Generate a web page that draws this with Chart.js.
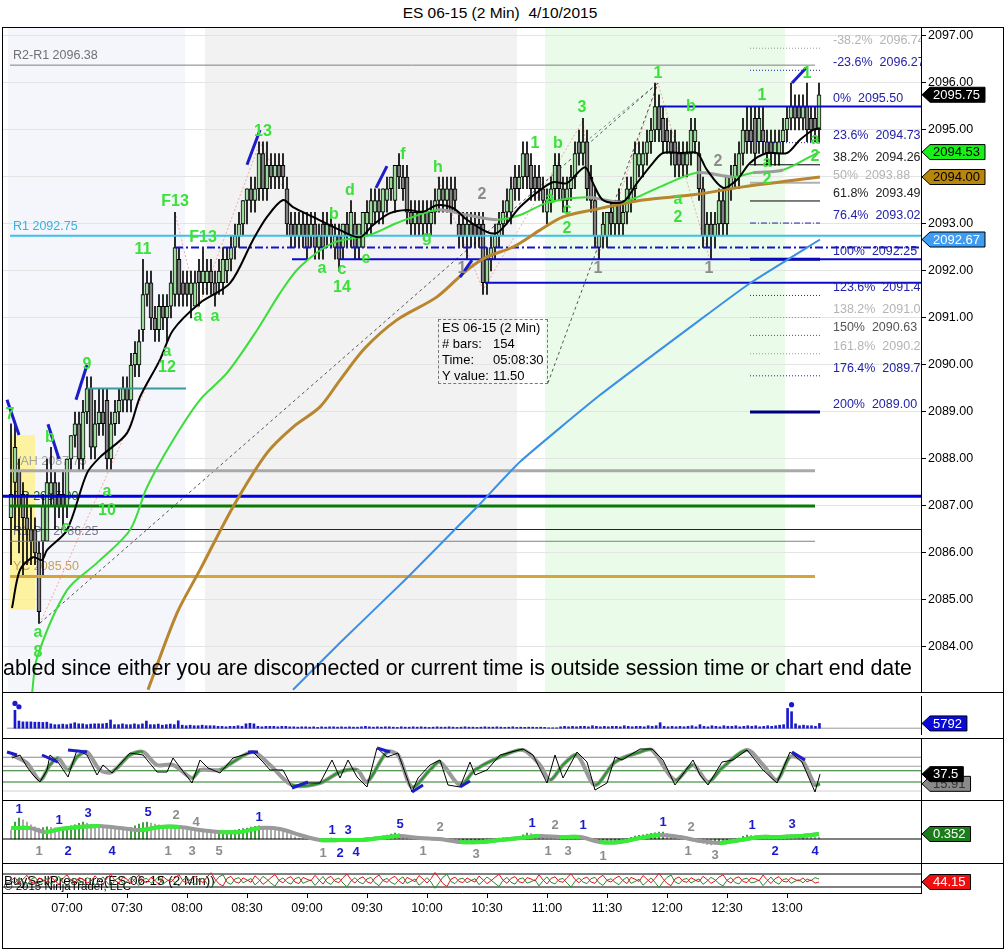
<!DOCTYPE html>
<html>
<head>
<meta charset="utf-8">
<title>ES 06-15 (2 Min)</title>
<script src="https://cdn.jsdelivr.net/npm/chart.js@4.4.1/dist/chart.umd.min.js"></script>
<style>
  html, body { margin: 0; padding: 0; background: #fff; }
  body { position: relative; width: 1005px; height: 949px; overflow: hidden; font-family: "Liberation Sans", Arial, sans-serif; }
  canvas { position: absolute; left: 3px; }
  #title { position: absolute; left: 0; top: 4px; width: 1000px; text-align: center; font-size: 15.5px; white-space: pre; }
  #frame { position: absolute; left: 2px; top: 27px; width: 1002px; height: 922px; border: 1px solid #000; box-sizing: border-box; pointer-events: none; z-index: 5; }
  .sep { position: absolute; left: 3px; width: 1000px; height: 1px; background: #000; z-index: 5; }
  #info { position: absolute; left: 438px; top: 319px; width: 110px; height: 65px; border: 1px dashed #777; box-sizing: border-box; font-size: 13px; line-height: 16px; padding: 0 0 0 3px; white-space: nowrap; z-index: 4; }
  #info span { display: inline-block; width: 51px; }
</style>
</head>
<body>
<div id="title">ES 06-15 (2 Min)  4/10/2015</div>
<canvas id="cMain" width="1000" height="664" style="top:28px"></canvas>
<canvas id="cVol" width="1000" height="46" style="top:692px"></canvas>
<canvas id="cOsc" width="1000" height="62" style="top:738px"></canvas>
<canvas id="cHist" width="1000" height="63" style="top:800px"></canvas>
<canvas id="cBsp" width="1000" height="70" style="top:863px"></canvas>
<div id="frame"></div>
<div class="sep" style="top:692px"></div>
<div class="sep" style="top:738px"></div>
<div class="sep" style="top:800px"></div>
<div class="sep" style="top:863px"></div>
<div id="info">ES 06-15 (2 Min)<br><span># bars:</span>154<br><span>Time:</span>05:08:30<br><span>Y value:</span>11.50</div>
<script>
// ES 06-15, 2 minute bars, 10 April 2015 (06:32 .. 13:16), bar index 0..202
const FONT = '"Liberation Sans", Arial, sans-serif';
const X_MIN = -2, X_MAX = 227.5;

// [open, high, low, close]
const bars = [
  [2086.75,2088.75,2085.75,2087.25],[2087.5,2088.75,2086.5,2088.25],[2087.75,2088,2086,2087],[2087.25,2087.5,2085.5,2086.75],
  [2086.75,2087.25,2085.75,2086.5],[2086.5,2087,2085.75,2086.25],[2086.5,2086.75,2085.75,2086],[2086,2086.25,2084.5,2084.75],
  [2086.25,2087.25,2085.5,2087],[2086.25,2088,2086.25,2087.5],[2087.25,2088.25,2087,2087.5],[2087.5,2087.75,2086.5,2087],
  [2087.25,2087.5,2086.75,2087],[2087.25,2087.75,2086.5,2087],[2087,2088,2086.75,2088],[2088,2088.5,2087.75,2088.5],
  [2088.5,2089,2088.25,2088.75],[2088.75,2089,2087.75,2088],[2088,2089.25,2087.75,2089],[2089,2089.75,2088.75,2089.5],
  [2089.5,2089.75,2088,2088.25],[2088.25,2089.25,2088,2088.75],[2088.75,2089.5,2088.5,2089],[2089,2089.5,2088.5,2088.75],
  [2089.25,2089.5,2087.75,2088],[2088,2089,2087.75,2088.75],[2088.75,2089.25,2088.5,2089],[2089,2089.5,2088.75,2089.25],
  [2089.25,2089.75,2089,2089.5],[2089.5,2089.75,2089,2089.25],[2089.25,2090.25,2089,2090],[2090,2090.5,2089.75,2090.25],
  [2090,2090.75,2089.75,2090.5],[2090.75,2092.25,2090.5,2091.5],[2091.5,2092,2091.25,2091.75],[2091.75,2092,2090.75,2091],
  [2091,2091.25,2090.5,2090.75],[2090.75,2091.5,2090.5,2091.25],[2091.25,2091.5,2090.75,2091],[2091,2091.5,2090.5,2091.25],
  [2091.25,2092,2091,2091.75],[2091.5,2093.25,2091.25,2092.5],[2092.25,2092.5,2091.25,2091.5],[2091.75,2092,2091.25,2091.5],
  [2091.75,2092,2091.25,2091.5],[2091.5,2092,2091,2091.75],[2091.25,2092,2091.25,2091.75],[2092,2092.25,2091.25,2091.75],
  [2091.75,2092.5,2091.5,2092],[2091.75,2092.25,2091.5,2092],[2092,2092.25,2091.5,2091.75],[2091.75,2092,2091.25,2091.5],
  [2091.75,2092.25,2091.5,2092],[2091.75,2092.5,2091.5,2092.25],[2092,2092.5,2091.75,2092.25],[2092.25,2092.75,2092,2092.5],
  [2092.5,2093,2092.25,2092.75],[2092.75,2093.25,2092.5,2093],[2093,2093.5,2092.75,2093.5],[2093.5,2093.75,2093,2093.75],
  [2093.75,2094,2093.25,2093.5],[2093.5,2094,2093.25,2093.75],[2093.75,2094.75,2093.5,2094.5],[2094.5,2094.75,2093.5,2093.75],
  [2093.75,2094.75,2093.5,2094.25],[2094.25,2094.5,2093.75,2094],[2094,2094.5,2093.75,2094.25],[2094.25,2094.5,2093.75,2094],
  [2094.25,2094.5,2093.75,2094],[2093.75,2094,2092.75,2093],[2093,2093.25,2092.5,2092.75],[2093,2093.25,2092.5,2092.75],
  [2092.75,2093.25,2092.5,2093],[2093,2093.25,2092.5,2092.75],[2093,2093.25,2092.25,2092.5],[2092.75,2093.25,2092.5,2093],
  [2093,2093.25,2092.25,2092.5],[2092.5,2093,2092.25,2092.75],[2093,2093.25,2092.25,2092.5],[2092.75,2093.25,2092.5,2093],
  [2093,2093.25,2092.5,2092.75],[2092.5,2093,2092.25,2092.75],[2092.75,2093,2092,2092.25],[2092.5,2093,2092.25,2093],
  [2093,2093.25,2092.5,2092.75],[2092.75,2093.5,2092.5,2093.25],[2093,2093.25,2092.25,2092.5],[2092.5,2093,2092.25,2093],
  [2092.5,2093.25,2092.5,2093.25],[2093,2093.5,2092.75,2093.25],[2093,2093.75,2092.75,2093.5],[2093.25,2093.75,2093,2093.5],
  [2093.5,2093.75,2093,2093.25],[2093.25,2093.75,2093,2093.75],[2093.5,2094,2093.25,2093.75],[2093.75,2094,2093.5,2094],
  [2093.5,2094.25,2093.25,2094.25],[2094.25,2094.5,2093.75,2094],[2094,2094.25,2093.5,2093.75],[2094,2094.25,2093,2093.25],
  [2093.25,2093.5,2092.75,2093],[2093,2093.5,2092.75,2093.25],[2093.25,2093.5,2092.75,2093],[2093,2093.5,2092.75,2093.25],
  [2093.25,2093.5,2092.75,2093],[2093,2093.5,2092.75,2093.25],[2093.25,2093.75,2093,2093.5],[2093.5,2094,2093.25,2093.75],
  [2093.75,2094,2093.25,2093.5],[2093.5,2094,2093.25,2093.75],[2093.75,2094,2093,2093.25],[2093.75,2094,2093.25,2093.5],
  [2093,2093.25,2092.5,2092.75],[2093,2093.25,2092.5,2092.75],[2092.75,2093.25,2092.25,2093],[2093,2093.25,2092.5,2092.75],
  [2093,2093.25,2092.5,2092.75],[2093,2093.25,2092.5,2092.75],[2093,2093.25,2091.5,2091.75],[2091.75,2092.5,2091.5,2092.25],
  [2092.25,2092.75,2092,2092.5],[2092.5,2093,2092.25,2092.75],[2092.75,2093.25,2092.5,2093],[2093,2093.5,2092.75,2093.25],
  [2093.25,2093.75,2093,2093.5],[2093.25,2094,2093,2093.75],[2094,2094.25,2093.5,2093.75],[2093.75,2094.25,2093.5,2094],
  [2094,2094.75,2093.75,2094.5],[2094.5,2094.75,2093.75,2094],[2094.25,2094.5,2093.5,2093.75],[2094,2094.25,2093.5,2093.75],
  [2094,2094.25,2093.5,2093.75],[2093.75,2094,2093.25,2093.5],[2093.25,2093.75,2093,2093.5],[2093.5,2094,2093.25,2093.75],
  [2093.75,2094.5,2093.5,2094.25],[2094.25,2094.5,2093.5,2093.75],[2093.75,2094,2093.25,2093.5],[2093.5,2094,2093.25,2093.75],
  [2093.75,2094.25,2093.5,2094],[2094,2094.75,2093.75,2094.5],[2094.75,2095,2094.25,2094.5],[2094.5,2095.25,2094.25,2094.75],
  [2094.75,2095,2093.5,2093.75],[2094,2094.25,2093.25,2093.5],[2093.5,2093.75,2092.5,2092.75],[2092.5,2092.75,2092.25,2092.75],
  [2092.75,2093.25,2092.5,2093],[2092.75,2093.25,2092.5,2093.25],[2093.25,2093.5,2092.75,2093],[2093,2093.5,2092.75,2093.5],
  [2093.5,2093.75,2092.75,2093],[2093,2093.5,2092.75,2093.25],[2093.25,2094,2093,2093.75],[2093.5,2094,2093.25,2093.75],
  [2093.75,2094.75,2093.5,2094.5],[2094.25,2094.75,2094,2094.5],[2094.25,2094.75,2094,2094.5],[2094.5,2095,2094.25,2094.75],
  [2094.75,2095.25,2094.5,2095],[2095,2096,2094.75,2095.5],[2095.5,2095.75,2094.75,2095],[2095.25,2095.5,2094.5,2094.75],
  [2095,2095.25,2094.5,2094.75],[2094.75,2095,2094.25,2094.5],[2094.75,2095,2094,2094.25],[2094.5,2094.75,2094,2094.25],
  [2094.5,2094.75,2094,2094.25],[2094.25,2094.75,2094,2094.5],[2094.5,2095.25,2094.25,2095],[2094.75,2095.25,2094.5,2095],
  [2094.5,2094.75,2093.5,2093.75],[2093.75,2094,2092.5,2092.75],[2092.75,2093.25,2092.5,2093],[2093,2093.25,2092.25,2092.75],
  [2092.75,2093.25,2092.5,2093],[2093,2093.75,2092.75,2093.5],[2093.5,2093.75,2092.75,2093],[2093,2094,2092.75,2094],
  [2093.75,2094.25,2093.5,2094],[2094,2094.5,2093.75,2094.25],[2094,2094.75,2093.75,2094.5],[2094.5,2095.25,2094.25,2095],
  [2095,2095.5,2094.5,2094.75],[2095,2095.5,2094.5,2094.75],[2095.25,2095.5,2094.25,2094.5],[2094.75,2095.5,2094.5,2095.25],
  [2095,2095.5,2094.5,2094.75],[2094.75,2095,2094.25,2094.5],[2094.75,2095,2094.25,2094.5],[2094.5,2095,2094.25,2094.75],
  [2094.5,2095,2094.25,2094.75],[2094.75,2095.25,2094.5,2095],[2095,2095.5,2094.75,2095.25],[2095.25,2096,2095,2095.5],
  [2095.5,2095.75,2095,2095.25],[2095.5,2095.75,2095,2095.25],[2095.25,2095.75,2095,2095.5],[2095.5,2096,2094.75,2095],
  [2095.25,2095.5,2094.75,2095],[2095.25,2095.5,2094.75,2095],[2095,2096,2094.75,2095.75]
];

const volume = [
  21700,8700,7700,7700,7700,7300,7300,7000,7300,5300, 4300,4300,5000,4300,5300,6700,5300,5300,4300,5000,
  5300,5300,5300,6000,10000,4300,4300,5300,4300,4300, 5300,4300,5300,8700,4300,4300,5000,3700,4300,5000,
  4300,9000,3700,3000,3700,3000,3000,3700,3000,3000, 3000,2300,2300,1700,2300,2300,3000,2300,5300,6000,
  5300,2300,1700,2300,2300,2300,1700,2300,2300,1700, 1700,1300,1700,1700,1300,1700,1000,1700,1300,1700,
  1700,1300,1700,1300,1700,1300,1300,1700,2300,1700, 1300,1700,1300,1700,1700,1300,1000,1700,1300,1300,
  1700,1300,1700,1300,1000,1300,1700,1300,1300,1700, 1300,1000,1300,1700,1300,1300,1000,1300,1700,1300,
  1300,1700,1300,1000,1300,1700,1000,1300,1000,1300, 1300,1000,1300,1000,500,500,500,1700,2300,1700,
  2300,1700,2300,2300,1700,3000,2300,1700,2300,1700, 2300,2300,1700,3000,2300,1700,2300,2300,1700,3000,
  2300,3000,6700,2300,1700,2300,1700,2300,1700,2300, 3000,1700,4300,2300,1700,3000,2300,1700,3000,2300,
  2300,3000,1700,2300,3000,2300,3000,1700,2300,3000, 2300,3000,3700,4300,24000,20000,5300,3000,3700,3000,
  3000,2300,5792
];
const volumeDots = [[0, 30000], [1, 26000], [195, 28500]];

// moving averages, [bar, price] vertices
const maFast = [[0.25,2084.83],[2.25,2085.64],[5.5,2085.91],[7.75,2085.85],[9,2086.06],[14,2086.49],[19,2087.70],
  [22.25,2088.04],[29,2088.55],[32.25,2089.32],[37.25,2090.11],[40.5,2090.74],[47.25,2091.32],[54.75,2091.74],
  [60.5,2092.66],[64,2093.15],[68,2093.51],[70.5,2093.36],[75.5,2093.15],[82.25,2092.87],[87.25,2092.72],
  [90.5,2092.98],[94.75,2093.23],[99,2093.30],[103,2093.26],[106.5,2093.40],[110.5,2093.34],[114,2093.09],
  [119,2092.83],[121.5,2092.81],[124,2093.02],[127.25,2093.36],[132.25,2093.72],[135.5,2093.89],[139,2093.87],
  [143.5,2094.21],[145.5,2093.87],[148,2093.51],[153,2093.47],[156.5,2093.87],[160.5,2094.30],[163,2094.51],
  [168,2094.51],[171.5,2094.51],[174,2094.15],[178,2093.77],[181.5,2093.94],[184.75,2094.30],[189,2094.51],
  [194,2094.51],[197.25,2094.79],[200.5,2095.0],[202.25,2095.04]];
const maMid = [[5.25,2083.0],[6.5,2083.77],[14,2085.21],[21.5,2085.79],[29.75,2086.49],[34,2087.40],[40.5,2088.40],
  [47.25,2089.26],[54,2089.83],[61.5,2090.74],[67.25,2091.53],[72.25,2092.09],[80.5,2092.60],[89.75,2092.77],
  [96.5,2093.02],[106.5,2093.30],[114,2093.19],[121.5,2093.09],[127.25,2093.19],[134,2093.45],[144,2093.57],
  [153,2093.47],[162.25,2093.79],[171.5,2094.09],[180.5,2094.0],[185.5,2094.09],[193,2094.15],[201.5,2094.51],
  [202.25,2094.53]];
const midFlatSegs = [15, 16, 20, 23, 25];
const maSlow = [[34.25,2083.09],[41.5,2084.72],[47.25,2085.64],[55.5,2086.98],[64,2088.13],[70.5,2088.68],
  [77.25,2089.11],[82.25,2089.68],[88.5,2090.36],[96.5,2090.96],[106.5,2091.45],[114,2092.02],[119,2092.30],
  [125.5,2092.51],[132.25,2092.87],[138,2093.15],[145.5,2093.30],[158,2093.51],[170.5,2093.62],[183,2093.79],
  [202.25,2094.0]];
const maLong = [[70.5,2083.09],[82.25,2084.09],[99,2085.47],[116.75,2087.0],[127.25,2087.94],[147.25,2089.36],
  [172.25,2090.96],[184.75,2091.74],[202.25,2092.67]];

// horizontal levels: [name, price, fromBar, toBar]
const levels = [
  ['R2-R1', 2096.38, -0.25, 201], ['R1', 2092.75, -0.25, X_MAX], ['VAH', 2087.75, -0.25, 201],
  ['POC', 2087.21, X_MIN, X_MAX], ['PP', 2087.0, -0.25, 201], ['S', 2086.5, X_MIN, X_MAX],
  ['R1-PP', 2086.25, -0.25, 201], ['YC', 2085.5, -0.25, 201], ['hi', 2095.5, 162.25, X_MAX],
  ['mid', 2092.5, 41, X_MAX], ['low1', 2092.25, 82.25, X_MAX], ['tick', 2092.25, 70.25, 74],
  ['low2', 2091.75, 118.5, X_MAX], ['nine', 2089.5, 19, 43.75]
];
const levelText = [['R2-R1', 'R2-R1 2096.38'], ['R1', 'R1 2092.75'], ['VAH', 'VAH 2087.75'],
  ['PP', 'PP 2087.00'], ['R1-PP', 'R1-PP 2086.25'], ['YC', 'YC 2085.50']];

// fibonacci extension drawn 0% 2095.50 .. 100% 2092.25
const fibPct = ['-38.2%','-23.6%','0%','23.6%','38.2%','50%','61.8%','76.4%','100%','123.6%','138.2%','150%','161.8%','176.4%','200%'];
const fibVal = [2096.74,2096.27,2095.50,2094.73,2094.26,2093.88,2093.49,2093.02,2092.25,2091.48,2091.01,2090.63,2090.24,2089.77,2089.00];
const fibSpan = [184.75, 202.25];

// background session shading and the opening-range box
const sessionBands = [[-0.75, 43.5], [48.5, 126.5], [133.5, 193.5]];
const openRange = [-0.25, 6, 2084.79, 2088.51];

// drawing-tool lines
const diagLines = [[[7.25,2084.51],[161.75,2096.0]], [[134.25,2089.62],[161.75,2096.0]], [[143.5,2094.74],[161.75,2096.0]]];
const swingLines = [[[7.25,2084.5],[39,2090.5]], [[41,2093.25],[46.75,2091.2]], [[46.75,2091.2],[62.25,2094.74],[68,2093.77]],
  [[106.5,2094.0],[118,2091.6],[143,2095.2],[146.75,2092.28],[161.75,2096.0],[174.5,2092.3]]];
const trendStrokes = [[[-1,2089.26],[2,2088.51]], [[9.25,2088.74],[12,2088.0]], [[16.25,2089.26],[19,2090.0]],
  [[59,2094.26],[62.25,2095.0]], [[91.25,2093.77],[94,2094.23]], [[112.25,2091.87],[115.25,2092.23]],
  [[195.25,2096.0],[198.75,2096.32]]];

// wave count labels: [text, bar, price, kind] kind g = green count, k = grey count
const waveLabels = [
  ['7',-0.25,2088.94,'g'],['b',9.75,2088.45,'g'],['c',13.75,2086.55,'g'],['a',6.75,2084.30,'g'],['8',6.75,2083.89,'g'],
  ['9',19,2090.0,'g'],['a',24,2087.30,'g'],['10',24,2086.91,'g'],['11',33,2092.45,'g'],['a',39,2090.28,'g'],['12',39,2089.94,'g'],
  ['F13',41,2093.47,'g'],['F13',48,2092.72,'g'],['a',46.75,2091.02,'g'],['a',51,2091.02,'g'],['13',63,2094.96,'g'],
  ['a',77.75,2092.06,'g'],['b',80.75,2093.19,'g'],['c',82.75,2092.02,'g'],['14',82.75,2091.64,'g'],['d',84.75,2093.72,'g'],
  ['e',88.75,2092.26,'g'],['f',98,2094.47,'g'],['g',104,2092.72,'g'],['h',106.75,2094.21,'g'],
  ['1',131,2094.72,'g'],['b',136.75,2094.72,'g'],['a',134.75,2093.53,'g'],['c',139,2093.30,'g'],['2',139,2092.91,'g'],
  ['3',142.75,2095.47,'g'],['1',161.75,2096.21,'g'],['b',170,2095.49,'g'],['a',166.75,2093.51,'g'],['2',166.75,2093.13,'g'],
  ['1',187.75,2095.74,'g'],['a',189,2094.30,'g'],['2',189,2093.94,'g'],['a',201,2094.79,'g'],['2',201,2094.43,'g'],['1',199,2096.21,'g'],
  ['2',117.75,2093.62,'k'],['1',146.75,2092.06,'k'],['1',174.5,2092.06,'k'],['2',176.75,2094.32,'k'],['1',112.75,2092.06,'k']
];
const priceTicks = [2084,2085,2086,2087,2088,2089,2090,2091,2092,2093,2094,2095,2096,2097];

// stochastic panel
const oscFast = [[0.25,73.3],[2.25,80],[4,53.3],[5.5,35.6],[7.25,20],[9,46.7],[9.75,80],[11.75,64.4],[14.25,31.1],
  [16.5,91.1],[19,80],[21.5,35.6],[23,57.8],[25.25,40],[29.75,84.4],[33,80],[36.5,42.2],[39,42.2],[40.5,73.3],
  [42.75,46.7],[45.25,17.8],[47.25,68.9],[49.25,51.1],[52.25,40],[55.5,73.3],[60.5,86.7],[63,64.4],[64.75,46.7],
  [68,46.7],[70.25,8.9],[73,17.8],[77.25,17.8],[80.25,68.9],[82.25,28.9],[84.25,68.9],[86.5,31.1],[89,8.9],
  [91.5,95.6],[94,75.6],[96.75,84.4],[100.25,-2.2],[101.75,28.9],[104.75,57.8],[107.25,68.9],[109.25,13.3],
  [112.25,8.9],[114.75,64.4],[116,35.6],[119,46.7],[122.25,80],[128,93.3],[130.5,80],[134,17.8],[136,80],
  [138,28.9],[141.5,86.7],[144,64.4],[146,2.2],[149,17.8],[151,75.6],[152.75,68.9],[157.25,93.3],[160.25,93.3],
  [163,68.9],[166,13.3],[170.5,68.9],[172.25,35.6],[174.25,13.3],[177.75,64.4],[180.5,68.9],[184,91.1],[188,46.7],
  [191.5,17.8],[194.75,86.7],[197.75,64.4],[201,-2.2],[202.25,37.5]];
const oscSlow = [[0.25,80],[4,62.2],[7.25,24.4],[9.75,57.8],[11.75,73.3],[14.25,46.7],[16.5,75.6],[19,86.7],
  [22.25,46.7],[25.25,42.2],[29.75,80],[33,86.7],[36.5,57.8],[40.5,57.8],[45.25,28.9],[47.25,46.7],[52.25,46.7],
  [55.5,64.4],[60.5,86.7],[64.75,57.8],[70.25,13.3],[77.25,17.8],[82.25,42.2],[86.5,46.7],[89,20],[94,86.7],
  [96.75,80],[100.25,8.9],[104.75,46.7],[107.25,64.4],[112.25,13.3],[116,46.7],[122.25,75.6],[128,91.1],
  [132.25,57.8],[134.75,24.4],[138,57.8],[141.5,80],[146,13.3],[151,64.4],[157.25,86.7],[160.25,91.1],[166,24.4],
  [170.5,57.8],[174.25,20],[177.75,51.1],[184,91.1],[188,57.8],[191.5,24.4],[194.75,75.6],[197.75,68.9],[201,13.3],
  [202.25,15.91]];
const oscLevels = [75, 55, 45, 20, 0];
const oscStrokes = [[[-1,86.7],[1.5,80]], [[7.75,80],[11.75,64.4]], [[14.25,91.1],[19,86.7]], [[59.25,86.7],[61.75,86.7]],
  [[70.25,6.7],[74.25,20]], [[91.5,95.6],[94.75,86.7]], [[100.25,-2.2],[103,13.3]], [[112.25,8.9],[114.75,22.2]],
  [[195.25,86.7],[198.5,68.9]]];

// momentum histogram panel
const histBars = [
  0.63,1.2,1.48,1.35,1.2,1.0,0.85,0.77,0.8,0.85, 0.82,0.78,0.77,0.82,0.88,0.92,1.0,1.1,1.2,1.12,
  1.0,0.92,0.88,0.82,0.77,0.75,0.73,0.72,0.71,0.7, 0.8,0.92,1.05,1.15,1.2,1.12,1.05,0.99,0.96,0.94,
  0.93,0.92,0.88,0.82,0.78,0.72,0.65,0.58,0.52,0.49, 0.48,0.47,0.48,0.49,0.49,0.55,0.62,0.68,0.73,0.77,
  0.84,0.9,0.92,0.9,0.86,0.8,0.72,0.66,0.6,0.45, 0.3,0.15,0.07,0.02,-0.03,-0.05,-0.06,-0.07,-0.03,0.05,
  0.06,0.03,-0.02,-0.05,-0.07,-0.05,-0.02,0.02,0.05,0.07, 0.1,0.14,0.18,0.21,0.28,0.35,0.42,0.38,0.3,0.22,
  0.2,0.18,0.16,0.15,0.14,0.12,0.09,0.07,0.01,-0.08, -0.15,-0.22,-0.28,-0.27,-0.26,-0.24,-0.22,-0.21,-0.16,-0.1,
  -0.04,0.02,0.07,0.09,0.1,0.12,0.13,0.14,0.3,0.42, 0.38,0.32,0.28,0.22,0.18,0.15,0.14,0.15,0.17,0.19,
  0.2,0.21,0.15,0.07,-0.05,-0.15,-0.24,-0.28,-0.28,-0.28, -0.28,-0.2,-0.12,-0.07,0.03,0.12,0.21,0.26,0.3,0.35,
  0.4,0.44,0.48,0.49,0.4,0.3,0.21,0.16,0.12,0.08, 0.05,-0.05,-0.21,-0.3,-0.38,-0.42,-0.35,-0.28,-0.21,-0.12,
  -0.05,0.02,0.07,0.18,0.28,0.25,0.22,0.21,0.19,0.17, 0.15,0.14,0.18,0.22,0.28,0.3,0.29,0.28,0.28,0.25,
  0.2,0.16,0.14
];
const histLine = [[0,0.77],[4.75,0.77],[8.5,0.49],[12.25,0.70],[17.25,0.85],[22.25,0.92],[27.25,0.77],[32.25,0.63],
  [37.25,0.85],[42.25,0.85],[47.25,0.63],[52.25,0.49],[57.25,0.49],[62.25,0.77],[67.25,0.70],[72.25,0.28],
  [77.25,-0.07],[82.25,-0.07],[87.25,-0.07],[92.25,0.07],[97.25,0.21],[102.25,0.07],[107.25,0.0],[112.25,-0.21],
  [117.25,-0.21],[122.25,-0.07],[127.25,0.07],[132.25,0.21],[137.25,0.14],[142.25,0.14],[147.25,-0.21],
  [152.25,-0.21],[157.25,0.07],[162.25,0.28],[167.25,0.14],[172.25,-0.14],[177.25,-0.28],[182.25,-0.07],
  [187.25,0.14],[192.25,0.14],[197.25,0.21],[202,0.352]];
const histLabels = [
  ['1',2,2.11,'b'],['1',12,1.34,'b'],['3',19.25,1.83,'b'],['2',14.25,-0.85,'b'],['4',25.25,-0.85,'b'],['5',34.25,1.90,'b'],
  ['1',62,1.55,'b'],['1',80.25,0.63,'b'],['3',84.25,0.63,'b'],['2',82.25,-0.99,'b'],['4',86.25,-0.92,'b'],['5',97.25,1.06,'b'],
  ['1',130.25,1.13,'b'],['1',143,0.99,'b'],['1',163,1.20,'b'],['1',185.25,0.99,'b'],['3',195.25,1.06,'b'],['2',191,-0.85,'b'],
  ['4',201,-0.85,'b'],
  ['1',7,-0.85,'k'],['2',41.25,1.69,'k'],['4',46.25,1.20,'k'],['1',39.25,-0.85,'k'],['3',45.25,-0.85,'k'],['5',52,-0.85,'k'],
  ['1',78,-0.99,'k'],['2',107.25,0.85,'k'],['1',103,-0.85,'k'],['3',116.25,-1.06,'k'],['2',136,0.99,'k'],['1',134.25,-0.85,'k'],
  ['3',139.25,-0.85,'k'],['1',148,-1.20,'k'],['2',170,0.85,'k'],['1',169.25,-0.85,'k'],['3',176,-1.13,'k']
];

// buy / sell pressure panel
const sellPressure = [
  50,62,40,55,70,45,38,60,52,44,66,48,35,58,72,50,42,61,55,40,
  47,68,52,36,59,74,49,41,63,55,38,57,70,46,43,62,50,35,65,53,
  44,60,72,48,39,57,66,51,42,63,80,55,37,29,58,66,45,40,60,52,
  43,68,54,35,47,61,73,50,41,58,65,44,38,62,55,49,70,52,36,58,
  66,47,42,61,75,53,40,57,64,45,39,60,71,50,43,58,66,48,37,62,
  54,45,69,56,40,57,81,60,38,27,55,63,46,42,60,51,44,67,53,38,
  49,62,74,51,39,58,65,45,41,61,56,48,72,52,37,58,64,47,43,61,
  76,54,41,57,63,44,39,60,70,50,44,58,67,49,38,62,55,46,69,55,
  41,58,78,57,39,30,56,64,47,43,61,52,45,66,54,39,48,63,72,50,
  40,59,64,46,42,60,57,49,71,53,38,57,65,47,44,62,54,48,60,45,
  52,40,44.15];
const buyPressure = [
  50,39,61,46,31,54,63,41,47,57,35,51,66,43,29,51,58,40,46,61,
  54,33,49,64,42,27,52,60,38,46,63,44,31,55,58,39,51,66,36,48,
  57,41,29,53,62,44,35,50,59,38,21,46,64,72,43,35,56,61,41,49,
  58,33,47,66,54,40,28,51,60,43,36,57,63,39,46,52,31,49,65,43,
  35,54,59,40,26,48,61,44,37,56,62,41,30,51,58,43,35,53,64,39,
  47,56,32,45,61,44,20,41,63,74,46,38,55,59,41,50,57,34,48,63,
  52,39,27,50,62,43,36,56,60,40,45,53,29,49,64,43,37,54,58,40,
  25,47,60,44,38,57,62,41,31,51,57,43,34,52,63,39,46,55,32,46,
  60,43,23,44,62,71,45,37,54,58,40,49,56,35,47,62,53,38,29,51,
  61,42,37,55,59,41,44,52,30,48,63,44,36,54,57,39,47,53,41,56,
  49,61,55.85];
const bspLevels = [75, 25];

const timeTickBars = [14,29,44,59,74,89,104,119,134,149,164,179,194];
const timeLabels = ['07:00','07:30','08:00','08:30','09:00','09:30','10:00','10:30','11:00','11:30','12:00','12:30','13:00'];

// ---------- styles ----------
const UP = '#9dd99d', DOWN = '#808080';
const GREEN_TXT = '#3be03b', GREY_TXT = '#8c8c8c', BLUE_TXT = '#1a1acc';
const bandColors = ['#f4f6fc', '#f2f2f2', '#eafbea'];
const levelStyle = {
  'R2-R1': ['#808080', 1, []], 'R1': ['#3cc0ea', 2, []], 'VAH': ['#a9a9a9', 3, []], 'POC': ['#0000e0', 3, []],
  'PP': ['#087a08', 3, []], 'S': ['#1010c0', 1, []], 'R1-PP': ['#808080', 1, []], 'YC': ['#d4a53a', 3, []],
  'hi': ['#0a0acc', 2, []], 'mid': ['#1414c8', 2, [8, 3, 2, 3]], 'low1': ['#0a0acc', 2, []], 'tick': ['#0a0acc', 2, []],
  'low2': ['#0a0acc', 2, []], 'nine': ['#3a9a9a', 2, []]
};
const levelTextColor = { 'R2-R1': '#707070', 'R1': '#3ab0dc', 'VAH': '#a3a3a3', 'PP': '#0a6a0a', 'R1-PP': '#7a7a8c', 'YC': '#c9a05a' };
const fibStyle = [
  ['#b4b4b4','#9a9a9a',1,[1,2]], ['#2222a8','#2222a8',1,[1,2]], ['#2222a8',null,0,[]], ['#2222a8','#2222a8',1,[1,2]],
  ['#222222','#000000',1,[]], ['#b4b4b4','#b0b0b0',2,[]], ['#222222','#000000',1,[]], ['#2222a8','#2222a8',1,[6,2,1,2]],
  ['#2222a8','#000080',3,[]], ['#2222a8','#2222a8',1,[1,2]], ['#b4b4b4','#9a9a9a',1,[1,2]], ['#555555','#555555',1,[1,2]],
  ['#b4b4b4','#9a9a9a',1,[1,2]], ['#2222a8','#2222a8',1,[1,2]], ['#2222a8','#000080',3,[]]
];

// ---------- helpers ----------
const pts = a => a.map(p => ({ x: p[0], y: p[1] }));
const line = (data, color, width, extra) => Object.assign({
  type: 'line', data: pts(data), borderColor: color, borderWidth: width, pointRadius: 0, fill: false, tension: 0
}, extra || {});
const hline = (v, color, width, extra) => line([[X_MIN, v], [X_MAX, v]], color, width, extra);

function xAxis(extra) {
  return Object.assign({ type: 'linear', min: X_MIN, max: X_MAX, offset: false, bounds: 'data', display: false }, extra || {});
}
function yAxis(min, max, extra) {
  return Object.assign({
    type: 'linear', position: 'right', min, max, bounds: 'data',
    afterFit: s => { s.width = 82; s.paddingTop = 0; s.paddingBottom = 0; },
    ticks: { display: false }, grid: { display: false }, border: { display: true, color: '#000' }
  }, extra || {});
}
function baseOptions(scales) {
  return {
    responsive: false, animation: false, events: [], layout: { padding: 0 },
    plugins: { legend: { display: false }, tooltip: { enabled: false } }, scales
  };
}
function flag(ctx, x, y, text, bg, fg) {
  ctx.save();
  ctx.font = '13px ' + FONT;
  const w = ctx.measureText(text).width + 8;
  ctx.beginPath();
  ctx.moveTo(x, y); ctx.lineTo(x + 8, y - 7.5); ctx.lineTo(x + 8 + w, y - 7.5);
  ctx.lineTo(x + 8 + w, y + 7.5); ctx.lineTo(x + 8, y + 7.5); ctx.closePath();
  ctx.fillStyle = bg; ctx.fill();
  ctx.strokeStyle = '#000'; ctx.lineWidth = 1; ctx.stroke();
  ctx.fillStyle = fg; ctx.textAlign = 'left'; ctx.textBaseline = 'middle';
  ctx.fillText(text, x + 11, y + 0.5);
  ctx.restore();
}
function clipArea(ctx, a) {
  ctx.beginPath(); ctx.rect(a.left, a.top, a.right - a.left, a.bottom - a.top); ctx.clip();
}

// ---------- main price panel ----------
const mainSets = [
  { type: 'bar', data: bars.map((b, i) => ({ x: i, y: [b[2], b[1]] })), backgroundColor: '#000',
    barThickness: 1, grouped: false, order: 100 },
  { type: 'bar', data: bars.map((b, i) => ({ x: i, y: [b[0], b[3]] })),
    backgroundColor: bars.map(b => b[3] > b[0] ? UP : DOWN), borderColor: '#000', borderWidth: 1,
    borderSkipped: false, barThickness: 4, grouped: false, order: 99 }
];
diagLines.forEach((d, k) => mainSets.push(line(d, k === 2 ? '#888' : '#555', 1, { borderDash: [3, 3], order: 110 })));
swingLines.forEach(d => mainSets.push(line(d, '#f0a8a8', 1, { borderDash: [2, 2], order: 111 })));
levels.forEach(l => {
  const st = levelStyle[l[0]];
  mainSets.push(line([[l[2], l[1]], [l[3], l[1]]], st[0], st[1], { borderDash: st[2], order: 60 }));
});
fibVal.forEach((v, k) => {
  const st = fibStyle[k];
  if (st[1]) mainSets.push(line([[fibSpan[0], v], [fibSpan[1], v]], st[1], st[2], { borderDash: st[3], order: 61 }));
});
mainSets.push(line(maLong, '#3a8fe6', 2, { tension: 0.15, order: 30 }));
mainSets.push(line(maSlow, '#b8862e', 3, { tension: 0.3, order: 29 }));
mainSets.push(line(maMid, '#3ade3a', 2, { tension: 0.3, order: 28,
  segment: { borderColor: s => midFlatSegs.includes(s.p0DataIndex) ? '#9c9c9c' : '#3ade3a',
             borderWidth: s => midFlatSegs.includes(s.p0DataIndex) ? 3 : 2 } }));
mainSets.push(line(maFast, '#000', 2, { tension: 0.3, order: 27 }));
trendStrokes.forEach(d => mainSets.push(line(d, '#1c1cc8', 3, { order: 10 })));

const mainDecor = {
  id: 'mainDecor',
  beforeDraw(c) {
    const { ctx, chartArea: a, scales: { x } } = c;
    ctx.save();
    sessionBands.forEach((b, k) => {
      const x0 = x.getPixelForValue(b[0]), x1 = x.getPixelForValue(b[1]);
      ctx.fillStyle = bandColors[k];
      ctx.fillRect(x0, a.top, x1 - x0, a.bottom - a.top);
    });
    ctx.restore();
  },
  beforeDatasetsDraw(c) {
    const { ctx, chartArea: a, scales: { x, y } } = c;
    ctx.save();
    const bx0 = x.getPixelForValue(openRange[0]), bx1 = x.getPixelForValue(openRange[1]);
    const by0 = y.getPixelForValue(openRange[3]), by1 = y.getPixelForValue(openRange[2]);
    ctx.fillStyle = 'rgba(255,240,130,0.75)';
    ctx.fillRect(bx0, by0, bx1 - bx0, by1 - by0);
    ctx.font = '12.5px ' + FONT; ctx.textAlign = 'left'; ctx.textBaseline = 'middle';
    levelText.forEach(t => {
      const lv = levels.find(l => l[0] === t[0]);
      ctx.fillStyle = levelTextColor[t[0]];
      ctx.fillText(t[1], a.left + 10, y.getPixelForValue(lv[1]) - 9.5);
    });
    ctx.restore();
  },
  afterDatasetsDraw(c) {
    const { ctx, chartArea: a, scales: { x, y } } = c;
    ctx.save();
    clipArea(ctx, a);
    ctx.font = 'bold 16px ' + FONT; ctx.textAlign = 'center'; ctx.textBaseline = 'middle';
    waveLabels.forEach(w => {
      ctx.fillStyle = w[3] === 'g' ? GREEN_TXT : GREY_TXT;
      ctx.fillText(w[0], x.getPixelForValue(w[1]), y.getPixelForValue(w[2]));
    });
    ctx.font = '12.5px ' + FONT; ctx.textAlign = 'left';
    fibVal.forEach((v, k) => {
      ctx.fillStyle = fibStyle[k][0];
      ctx.fillText(fibPct[k] + '  ' + v.toFixed(2), a.right - 88, y.getPixelForValue(v) - 7.5);
    });
    const msg = 'abled since either you are disconnected or current time is outside session time or chart end date';
    ctx.font = '19px ' + FONT;
    const fs = 19 * (a.right - 9 - a.left) / ctx.measureText(msg).width;
    ctx.font = fs.toFixed(2) + 'px ' + FONT;
    ctx.fillStyle = '#000'; ctx.textAlign = 'right';
    ctx.fillText(msg, a.right - 9, a.bottom - 23);
    ctx.restore();
  },
  afterDraw(c) {
    const { ctx, chartArea: a, scales: { y } } = c;
    const fx = a.right + 1;
    flag(ctx, fx, y.getPixelForValue(maLong[maLong.length - 1][1]), maLong[maLong.length - 1][1].toFixed(2), '#3d9df5', '#fff');
    flag(ctx, fx, y.getPixelForValue(maSlow[maSlow.length - 1][1]), maSlow[maSlow.length - 1][1].toFixed(2), '#b8860b', '#000');
    flag(ctx, fx, y.getPixelForValue(maMid[maMid.length - 1][1]), maMid[maMid.length - 1][1].toFixed(2), '#19f019', '#000');
    const last = bars[bars.length - 1][3];
    flag(ctx, fx, y.getPixelForValue(last), last.toFixed(2), '#000', '#fff');
  }
};

new Chart(document.getElementById('cMain'), {
  type: 'bar',
  data: { datasets: mainSets },
  options: baseOptions({
    x: xAxis(),
    y: yAxis(2097 - 664 / 47 + 8 / 47, 2097 + 8 / 47, {
      afterBuildTicks: s => { s.ticks = priceTicks.map(v => ({ value: v })); },
      ticks: { display: true, callback: v => Number(v).toFixed(2), color: '#000', padding: 2, font: { family: FONT, size: 12.5 } },
      grid: { display: true, color: '#e4e4e4', tickColor: '#000', tickLength: 5 }
    })
  }),
  plugins: [mainDecor]
});

// ---------- volume ----------
new Chart(document.getElementById('cVol'), {
  type: 'bar',
  data: { datasets: [
    hline(0, '#9a9a9a', 1, { order: 5 }),
    { type: 'line', data: pts(volumeDots), showLine: false, pointRadius: 2.6, pointBackgroundColor: '#1a1acc',
      pointBorderWidth: 0, order: 1 },
    { type: 'bar', data: volume.map((v, i) => ({ x: i, y: v })), backgroundColor: '#1a1acc', barThickness: 2,
      grouped: false, order: 2 }
  ] },
  options: baseOptions({ x: xAxis(), y: yAxis(-7000, 39000) }),
  plugins: [{ id: 'volFlag', afterDraw(c) {
    const v = volume[volume.length - 1];
    flag(c.ctx, c.chartArea.right + 1, c.scales.y.getPixelForValue(v), String(v), '#0a0ad8', '#fff');
  } }]
});

// ---------- stochastic ----------
const oscLevelColor = ['#8a8a8a', '#a0a0a0', '#1f7a1f', '#1f7a1f', '#d0d0d0'];
const oscSets = oscLevels.map((v, k) => hline(v, oscLevelColor[k], 1, { order: 50 }));
oscSets.push(line(oscSlow, '#9a9a9a', 4, { order: 20, tension: 0.3 }));
oscSets.push(line(oscSlow, '#2a962a', 2, { order: 19, tension: 0.3,
  segment: { borderColor: s => s.p1.parsed.y > s.p0.parsed.y ? '#2a962a' : 'rgba(0,0,0,0)' } }));
oscSets.push(line(oscFast, '#000', 1, { order: 18 }));
oscStrokes.forEach(d => oscSets.push(line(d, '#1c1cc8', 3, { order: 5 })));
new Chart(document.getElementById('cOsc'), {
  type: 'line',
  data: { datasets: oscSets },
  options: baseOptions({ x: xAxis(), y: yAxis(-20, 53 / 0.45) }),
  plugins: [{ id: 'oscFlag', afterDraw(c) {
    const y = c.scales.y, fx = c.chartArea.right + 1;
    const s = oscSlow[oscSlow.length - 1][1], f = oscFast[oscFast.length - 1][1];
    flag(c.ctx, fx, y.getPixelForValue(s), s.toFixed(2), '#8a8a8a', '#333');
    flag(c.ctx, fx, y.getPixelForValue(f), String(f), '#000', '#fff');
  } }]
});

// ---------- histogram ----------
new Chart(document.getElementById('cHist'), {
  type: 'bar',
  data: { datasets: [
    { type: 'bar', data: histBars.map((v, i) => ({ x: i, y: v })), barThickness: 1, grouped: false, order: 30,
      backgroundColor: histBars.map((v, i) => (i > 0 && v >= histBars[i - 1]) ? '#1e8c1e' : '#9a9a9a') },
    hline(0, '#000', 1, { order: 25 }),
    line(histLine, '#9a9a9a', 4, { order: 20, tension: 0.3 }),
    line(histLine, '#33ee33', 4, { order: 19, tension: 0.3,
      segment: { borderColor: s => s.p1.parsed.y >= s.p0.parsed.y ? '#33ee33' : 'rgba(0,0,0,0)' } })
  ] },
  options: baseOptions({ x: xAxis(), y: yAxis(-24 / 14.2, 39 / 14.2) }),
  plugins: [{ id: 'histDecor',
    afterDatasetsDraw(c) {
      const { ctx, chartArea: a, scales: { x, y } } = c;
      ctx.save(); clipArea(ctx, a);
      ctx.font = 'bold 13px ' + FONT; ctx.textAlign = 'center'; ctx.textBaseline = 'middle';
      histLabels.forEach(l => {
        ctx.fillStyle = l[3] === 'b' ? BLUE_TXT : GREY_TXT;
        ctx.fillText(l[0], x.getPixelForValue(l[1]), y.getPixelForValue(l[2]));
      });
      ctx.restore();
    },
    afterDraw(c) {
      const v = histLine[histLine.length - 1][1];
      flag(c.ctx, c.chartArea.right + 1, c.scales.y.getPixelForValue(v), v.toFixed(3), '#1c7c1c', '#fff');
    } }]
});

// ---------- buy/sell pressure + time axis ----------
new Chart(document.getElementById('cBsp'), {
  type: 'line',
  data: { datasets: [
    ...bspLevels.map(v => hline(v, '#000', 1, { order: 50 })),
    line(buyPressure.map((v, i) => [i, v]), '#2a8a2a', 1, { order: 20 }),
    line(sellPressure.map((v, i) => [i, v]), '#e01818', 1, { order: 19 })
  ] },
  options: baseOptions({
    x: xAxis({
      display: true, position: 'bottom',
      afterBuildTicks: s => { s.ticks = timeTickBars.map(v => ({ value: v })); },
      afterFit: s => { s.height = 40; s.paddingLeft = 0; s.paddingRight = 0; },
      ticks: { autoSkip: false, maxRotation: 0, padding: 3, color: '#000', font: { family: FONT, size: 12.5 },
               callback: (v, i) => timeLabels[i] },
      grid: { drawOnChartArea: false, tickLength: 5, tickColor: '#000' },
      border: { display: true, color: '#000' }
    }),
    y: yAxis(50 - 12.5 / 0.26, 50 + 17.5 / 0.26)
  }),
  plugins: [{ id: 'bspDecor',
    beforeDatasetsDraw(c) {
      const { ctx, chartArea: a } = c;
      ctx.save(); ctx.fillStyle = '#000'; ctx.textAlign = 'left'; ctx.textBaseline = 'middle';
      ctx.font = '13.5px ' + FONT; ctx.fillText('BuySellPressure(ES 06-15 (2 Min))', a.left + 1, a.top + 18);
      ctx.font = '11.5px ' + FONT; ctx.fillText('\u00a9 2015 NinjaTrader, LLC', a.left + 1, a.top + 24);
      ctx.restore();
    },
    afterDraw(c) {
      const v = sellPressure[sellPressure.length - 1];
      flag(c.ctx, c.chartArea.right + 1, c.scales.y.getPixelForValue(v), v.toFixed(2), '#ee1010', '#fff');
    } }]
});
</script>
</body>
</html>
